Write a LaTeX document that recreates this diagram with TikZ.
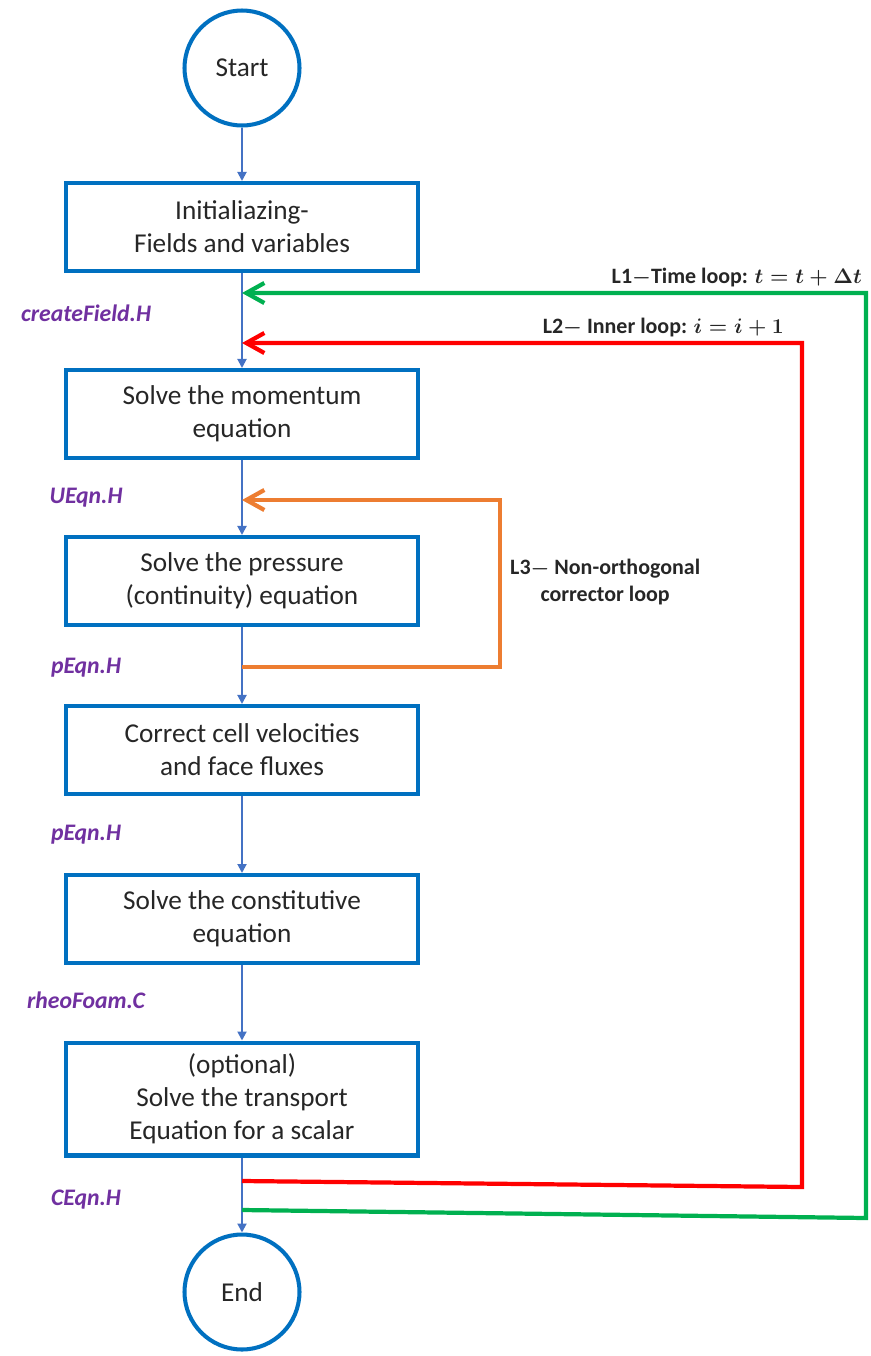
\documentclass[tikz,border=0pt]{standalone}
\usepackage{fontspec}
\setmainfont{Carlito}
\usetikzlibrary{arrows.meta, shapes.geometric, positioning, calc}
\definecolor{boxblue}{HTML}{0070C0}
\definecolor{linkblue}{HTML}{4472C4}
\definecolor{filepurple}{HTML}{7030A0}
\definecolor{loopgreen}{HTML}{00B050}
\definecolor{looporange}{HTML}{ED7D31}
\definecolor{loopred}{HTML}{FF0000}

\begin{document}
\begin{tikzpicture}[x=0.02cm, y=-0.02cm,
  stage/.style={draw=boxblue, line width=2.3pt, rectangle, minimum width=7.05cm, minimum height=1.76cm, align=center, text=black!85, font=\fontsize{15.5}{18.8}\selectfont},
  term/.style={draw=boxblue, line width=2.3pt, circle, minimum size=2.3cm, text=black!85, font=\fontsize{15.5}{18.8}\selectfont},
  file/.style={text=filepurple, font=\fontsize{13.5}{15}\selectfont\bfseries\itshape},
  flow/.style={draw=linkblue, line width=1.1pt, -{Triangle[length=1.8mm, width=1.8mm]}},
  loop/.style={line width=2.4pt, -{Straight Barb[length=3.6mm, width=4mm]}},
  looplab/.style={text=black!85, font=\fontsize{12.5}{15.5}\selectfont\bfseries\boldmath}]
\useasboundingbox (0,0) rectangle (871,1356);
\node[term] (start) at (242,68) {Start};
\node[stage] (init) at (242,227) {Initialiazing-\\Fields and variables};
\node[stage] (mom) at (242,414) {Solve the momentum\\equation};
\node[stage] (pres) at (242,581) {Solve the pressure\\(continuity) equation};
\node[stage] (corr) at (242,750) {Correct cell velocities\\and face fluxes};
\node[stage] (cons) at (242,919) {Solve the constitutive\\equation};
\node[stage, minimum height=2.26cm] (scal) at (242,1099) {(optional)\\Solve the transport\\Equation for a scalar};
\node[term] (end) at (242,1292) {End};
\node[file] (fcreate) at (86,313) {createField.H};
\node[file] (fueqn) at (86,498) {UEqn.H};
\node[file] (fpeqn) at (86,668) {pEqn.H};
\node[file] (fpcorr) at (86,835) {pEqn.H};
\node[file] (frheo) at (86,1000) {rheoFoam.C};
\node[file] (fceqn) at (86,1200) {CEqn.H};
\draw[flow] (start) -- (init);
\draw[flow] (init) -- (mom);
\draw[flow] (mom) -- (pres);
\draw[flow] (pres) -- (corr);
\draw[flow] (corr) -- (cons);
\draw[flow] (cons) -- (scal);
\draw[flow] (scal) -- (end);
\coordinate (timeout) at (242,1210);
\coordinate (timein) at (242,293);
\coordinate (innerout) at (242,1181);
\coordinate (innerin) at (242,343);
\coordinate (corrout) at (242,667);
\coordinate (corrin) at (242,500);
\draw[loop, loopgreen] (timeout) -- (866,1218) -- (866,293) -- (timein);
\draw[loop, loopred] (innerout) -- (802,1187) -- (802,343) -- (innerin);
\draw[loop, looporange] (corrout) -- (500,667) -- (500,500) -- (corrin);
\node[looplab, anchor=east] (ltime) at (868,278) {L1$-$Time loop: $t=t+\Delta t$};
\node[looplab, anchor=east] (linner) at (790,328) {L2$-$ Inner loop: $i=i+1$};
\node[looplab, anchor=west, align=center] (lcorr) at (504,582) {L3$-$ Non-orthogonal\\corrector loop};
\end{tikzpicture}
\end{document}
